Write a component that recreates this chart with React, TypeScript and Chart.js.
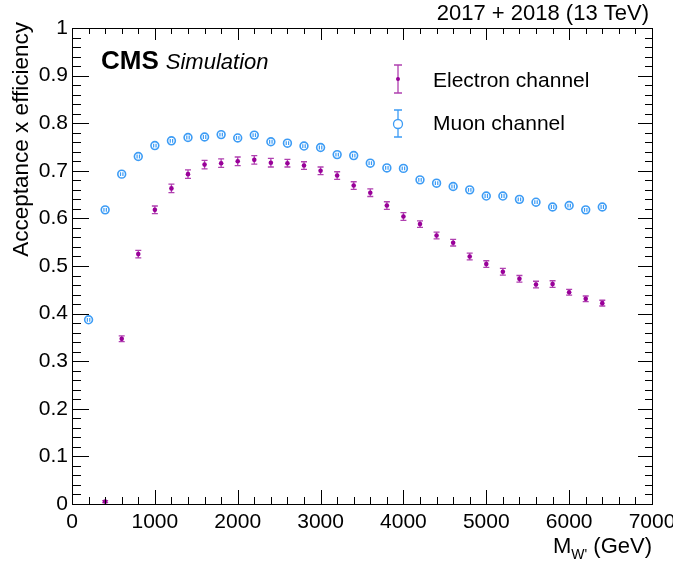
import React, { useEffect, useRef } from "react";
import { Chart, registerables } from "chart.js";

Chart.register(...registerables);

const massPoints = [200, 400, 600, 800, 1000, 1200, 1400, 1600, 1800, 2000, 2200, 2400, 2600, 2800, 3000, 3200, 3400, 3600, 3800, 4000, 4200, 4400, 4600, 4800, 5000, 5200, 5400, 5600, 5800, 6000, 6200, 6400];
const electronEff = [null, 0.005, 0.347, 0.525, 0.618, 0.663, 0.693, 0.713, 0.716, 0.72, 0.723, 0.717, 0.716, 0.711, 0.7, 0.69, 0.669, 0.654, 0.627, 0.604, 0.588, 0.564, 0.549, 0.52, 0.504, 0.488, 0.473, 0.461, 0.462, 0.445, 0.431, 0.422];
const electronErr = [0, 0.002, 0.006, 0.008, 0.008, 0.009, 0.009, 0.009, 0.009, 0.009, 0.009, 0.009, 0.008, 0.008, 0.008, 0.008, 0.008, 0.008, 0.008, 0.008, 0.007, 0.007, 0.007, 0.007, 0.007, 0.007, 0.007, 0.007, 0.007, 0.006, 0.006, 0.006];
const muonEff = [0.387, 0.618, 0.693, 0.73, 0.753, 0.763, 0.77, 0.771, 0.776, 0.769, 0.775, 0.761, 0.758, 0.752, 0.749, 0.734, 0.732, 0.716, 0.706, 0.705, 0.681, 0.674, 0.667, 0.66, 0.647, 0.647, 0.64, 0.634, 0.624, 0.627, 0.618, 0.624];
const muonErr = [0.004, 0.004, 0.004, 0.004, 0.004, 0.004, 0.004, 0.004, 0.004, 0.004, 0.004, 0.004, 0.004, 0.004, 0.004, 0.004, 0.004, 0.004, 0.004, 0.004, 0.004, 0.004, 0.004, 0.004, 0.004, 0.004, 0.004, 0.004, 0.004, 0.004, 0.004, 0.004];

const seriesLabels = ["Electron channel", "Muon channel"];
const yTickLabelsStep = 0.1;
const xTickLabelsStep = 1000;

const ELECTRON_COLOR = "#990099";
const ELECTRON_BAR = "#b040b0";
const MUON_COLOR = "#3d9cf5";
const FONT = "'Liberation Sans', Arial, sans-serif";

const frameAndErrors = {
  id: "rootStyle",
  beforeDatasetsDraw(chart: any) {
    const ctx = chart.ctx;
    const xs = chart.scales.x;
    const ys = chart.scales.y;
    ctx.save();
    ctx.strokeStyle = ELECTRON_BAR;
    ctx.lineWidth = 1.3;
    massPoints.forEach((m, i) => {
      const v = electronEff[i];
      if (v === null) return;
      const e = electronErr[i];
      const px = xs.getPixelForValue(m);
      const y1 = ys.getPixelForValue(v - e);
      const y2 = ys.getPixelForValue(v + e);
      ctx.beginPath();
      ctx.moveTo(px, y1);
      ctx.lineTo(px, y2);
      ctx.moveTo(px - 3, y1);
      ctx.lineTo(px + 3, y1);
      ctx.moveTo(px - 3, y2);
      ctx.lineTo(px + 3, y2);
      ctx.stroke();
    });
    ctx.restore();
  },
  afterDatasetsDraw(chart: any) {
    const ctx = chart.ctx;
    const xs = chart.scales.x;
    const ys = chart.scales.y;
    ctx.save();
    ctx.strokeStyle = MUON_COLOR;
    ctx.lineWidth = 1.2;
    massPoints.forEach((m, i) => {
      const v = muonEff[i];
      if (v === null) return;
      const e = muonErr[i];
      const px = xs.getPixelForValue(m);
      const y1 = ys.getPixelForValue(v - e);
      const y2 = ys.getPixelForValue(v + e);
      ctx.beginPath();
      ctx.moveTo(px - 1.2, y1);
      ctx.lineTo(px - 1.2, y2);
      ctx.moveTo(px + 1.2, y1);
      ctx.lineTo(px + 1.2, y2);
      ctx.stroke();
    });
    ctx.restore();
  },
  afterDraw(chart: any) {
    const ctx = chart.ctx;
    const { left, right, top, bottom } = chart.chartArea;
    const xs = chart.scales.x;
    const ys = chart.scales.y;
    ctx.save();
    ctx.strokeStyle = "#000";
    ctx.lineWidth = 1;
    ctx.strokeRect(Math.round(left) + 0.5, Math.round(top) + 0.5, Math.round(right - left), Math.round(bottom - top));
    ctx.beginPath();
    for (let v = 0; v <= 7000; v += 200) {
      const px = Math.round(xs.getPixelForValue(v)) + 0.5;
      const major = v % 1000 === 0;
      ctx.moveTo(px, bottom);
      ctx.lineTo(px, bottom - (major ? 14 : 7));
      ctx.moveTo(px, top);
      ctx.lineTo(px, top + (major ? 12 : 6));
    }
    for (let k = 0; k <= 50; k++) {
      const v = k * 0.02;
      const py = Math.round(ys.getPixelForValue(v)) + 0.5;
      const major = k % 5 === 0;
      ctx.moveTo(left, py);
      ctx.lineTo(left + (major ? 17 : 9), py);
      ctx.moveTo(right, py);
      ctx.lineTo(right - (major ? 14 : 7), py);
    }
    ctx.stroke();

    // texts
    ctx.fillStyle = "#000";
    ctx.font = `22px ${FONT}`;
    ctx.textAlign = "right";
    ctx.textBaseline = "alphabetic";
    ctx.fillText("2017 + 2018 (13 TeV)", 649, 20);

    ctx.textAlign = "left";
    ctx.font = `bold 26px ${FONT}`;
    ctx.fillText("CMS", 101, 69);
    const cmsW = ctx.measureText("CMS").width;
    ctx.font = `italic 22px ${FONT}`;
    ctx.fillText("Simulation", 101 + cmsW + 7, 69);

    // y title
    ctx.save();
    ctx.translate(28, 22);
    ctx.rotate(-Math.PI / 2);
    ctx.font = `22.5px ${FONT}`;
    ctx.textAlign = "right";
    ctx.fillText("Acceptance x efficiency", 0, 0);
    ctx.restore();

    // x title
    ctx.font = `22px ${FONT}`;
    ctx.textAlign = "right";
    const tail = " (GeV)";
    const tailW = ctx.measureText(tail).width;
    ctx.fillText(tail, 652, 553);
    ctx.font = `14px ${FONT}`;
    const subW = ctx.measureText("W'").width;
    ctx.fillText("W'", 652 - tailW, 559);
    ctx.font = `22px ${FONT}`;
    ctx.fillText("M", 652 - tailW - subW, 553);

    // legend
    ctx.textAlign = "left";
    ctx.textBaseline = "alphabetic";
    ctx.font = `21px ${FONT}`;
    ctx.fillText(seriesLabels[0], 433, 87);
    ctx.fillText(seriesLabels[1], 433, 130);
    const lx = 398;
    ctx.strokeStyle = ELECTRON_BAR;
    ctx.lineWidth = 1.3;
    ctx.beginPath();
    ctx.moveTo(lx, 65);
    ctx.lineTo(lx, 93);
    ctx.moveTo(lx - 4, 65);
    ctx.lineTo(lx + 4, 65);
    ctx.moveTo(lx - 4, 93);
    ctx.lineTo(lx + 4, 93);
    ctx.stroke();
    ctx.fillStyle = ELECTRON_COLOR;
    ctx.beginPath();
    ctx.arc(lx, 79, 2, 0, Math.PI * 2);
    ctx.fill();

    ctx.strokeStyle = MUON_COLOR;
    ctx.beginPath();
    ctx.moveTo(lx, 110);
    ctx.lineTo(lx, 137);
    ctx.moveTo(lx - 4, 110);
    ctx.lineTo(lx + 4, 110);
    ctx.moveTo(lx - 4, 137);
    ctx.lineTo(lx + 4, 137);
    ctx.stroke();
    ctx.fillStyle = "#fff";
    ctx.lineWidth = 1.3;
    ctx.beginPath();
    ctx.arc(lx, 124, 4.5, 0, Math.PI * 2);
    ctx.fill();
    ctx.stroke();
    ctx.restore();
  },
};

export default function App() {
  const canvasRef = useRef<HTMLCanvasElement | null>(null);

  useEffect(() => {
    if (!canvasRef.current) return;
    const chart = new Chart(canvasRef.current, {
      type: "scatter",
      data: {
        datasets: [
          {
            label: seriesLabels[0],
            data: massPoints.map((m, i) => ({ x: m, y: electronEff[i] as any })),
            pointRadius: 2.3,
            pointBackgroundColor: ELECTRON_COLOR,
            pointBorderWidth: 0,
            showLine: false,
          },
          {
            label: seriesLabels[1],
            data: massPoints.map((m, i) => ({ x: m, y: muonEff[i] })),
            pointRadius: 3.9,
            pointBackgroundColor: "rgba(255,255,255,0)",
            pointBorderColor: MUON_COLOR,
            pointBorderWidth: 1.6,
            showLine: false,
          },
        ],
      },
      options: {
        responsive: false,
        animation: false,
        devicePixelRatio: 1,
        layout: { padding: { top: 28, right: 21, left: 0, bottom: 0 } },
        plugins: { legend: { display: false }, tooltip: { enabled: false } },
        scales: {
          x: {
            type: "linear",
            min: 0,
            max: 7000,
            grid: { display: false, drawTicks: false },
            border: { display: false },
            ticks: {
              stepSize: xTickLabelsStep,
              autoSkip: false,
              maxRotation: 0,
              padding: 6,
              color: "#000",
              font: { family: FONT, size: 21 },
              callback: (v: any) => String(Math.round(Number(v))),
            },
            afterFit: (s: any) => {
              s.height = 61;
              s.paddingLeft = 0;
              s.paddingRight = 0;
            },
          },
          y: {
            type: "linear",
            min: 0,
            max: 1,
            grid: { display: false, drawTicks: false },
            border: { display: false },
            ticks: {
              stepSize: yTickLabelsStep,
              autoSkip: false,
              padding: 4,
              color: "#000",
              font: { family: FONT, size: 21 },
              callback: (v: any) => String(Math.round(Number(v) * 10) / 10),
            },
            afterFit: (s: any) => {
              s.width = 72;
              s.paddingTop = 0;
              s.paddingBottom = 0;
            },
          },
        },
      },
      plugins: [frameAndErrors],
    });
    return () => chart.destroy();
  }, []);

  return (
    <div style={{ position: "fixed", left: 0, top: 0, width: 673, height: 565, background: "#fff" }}>
      <canvas ref={canvasRef} width={673} height={565} style={{ width: 673, height: 565 }} />
    </div>
  );
}
